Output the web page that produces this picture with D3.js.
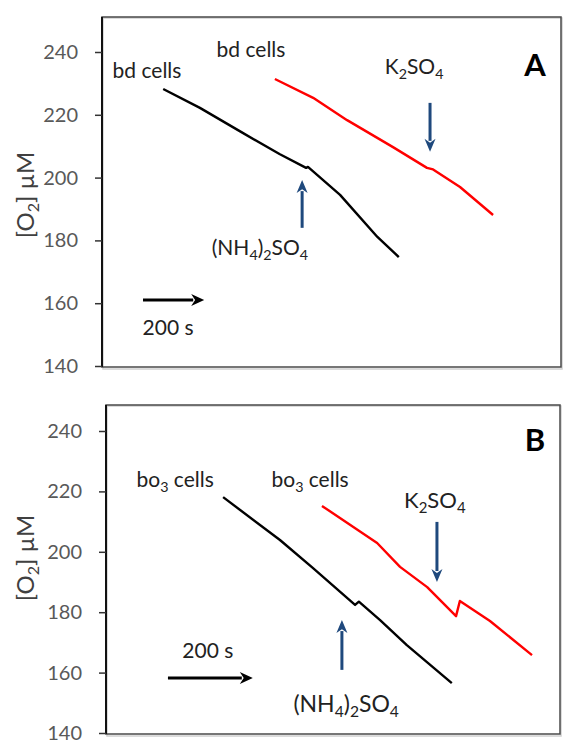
<!DOCTYPE html>
<html>
<head>
<meta charset="utf-8">
<script src="https://cdn.jsdelivr.net/npm/d3@7"></script>
<style>
  body { margin: 0; background: #fff; }
  svg { display: block; font-family: Lato, "Open Sans", sans-serif; }
</style>
</head>
<body>
<svg id="chart" width="563" height="742"></svg>
<script>
// [time (s), O2 (uM)]
var aBlack = [[200, 228.2], [320, 222.2], [450, 214.8], [580, 207.5], [667, 203.1], [673, 203.4], [778, 194.5], [900, 181.1], [970, 174.7]];
var aRed = [[565, 231.4], [690, 225.4], [801, 218.3], [951, 209.7], [1062, 203.1], [1082, 202.6], [1170, 197.0], [1278, 188.1]];
var bBlack = [[276, 218.1], [410, 203.9], [488, 194.6], [587, 182.4], [596, 183.5], [646, 177.4], [709, 169.1], [815, 156.5]];
var bRed = [[509, 215.2], [639, 202.9], [693, 195.0], [757, 188.3], [825, 178.7], [834, 183.7], [905, 177.1], [1004, 165.8]];
var yTicks = [140, 160, 180, 200, 220, 240];
var scaleBar = 200; // s

var panels = [
    {
        name: "A", left: 102, right: 561, top: 17, y140: 366, y240: 52, tMax: 1500, ylabY: 195,
        traces: [aBlack, aRed],
        labels: [
            {t: 147, v: 231.7, parts: [["bd cells"]], size: 21},
            {t: 487, v: 238.4, parts: [["bd cells"]], size: 21},
            {t: 1020, v: 233, parts: [["K"], ["2", 1], ["SO"], ["4", 1]], size: 21},
            {t: 516, v: 175.4, parts: [["(NH"], ["4", 1], [")"], ["2", 1], ["SO"], ["4", 1]], size: 21},
            {t: 216, v: 149.9, parts: [["200 s"]], size: 21}
        ],
        up: {t: 654, v0: 184, v1: 199.2},
        down: {t: 1072, v0: 223.8, v1: 208.2},
        bar: {t: 134, v: 161},
        letter: {t: 1415, v: 232.4}
    },
    {
        name: "B", left: 106, right: 560, top: 405, y140: 733, y240: 431, tMax: 1070, ylabY: 558,
        traces: [bBlack, bRed],
        labels: [
            {t: 163, v: 221.5, parts: [["bo"], ["3", 1], [" cells"]], size: 21},
            {t: 481, v: 221.5, parts: [["bo"], ["3", 1], [" cells"]], size: 21},
            {t: 775, v: 214.5, parts: [["K"], ["2", 1], ["SO"], ["4", 1]], size: 22},
            {t: 566, v: 147.0, parts: [["(NH"], ["4", 1], [")"], ["2", 1], ["SO"], ["4", 1]], size: 23},
            {t: 240, v: 164.8, parts: [["200 s"]], size: 21}
        ],
        up: {t: 556, v0: 160.9, v1: 177.4},
        down: {t: 780, v0: 209.9, v1: 190},
        bar: {t: 146, v: 158.2},
        letter: {t: 1011, v: 233.4}
    }
];

var svg = d3.select("#chart");
var colors = ["#000", "#ff0000"];
var blue = "#1f497d";

function arrow(g, x1, y1, x2, y2, color, w, hl, hw) {
    var ang = Math.atan2(y2 - y1, x2 - x1),
        bx = x2 - hl * Math.cos(ang),
        by = y2 - hl * Math.sin(ang);
    g.append("line")
        .attr("x1", x1).attr("y1", y1)
        .attr("x2", bx + 2 * Math.cos(ang)).attr("y2", by + 2 * Math.sin(ang))
        .attr("stroke", color).attr("stroke-width", w);
    var px = -Math.sin(ang) * hw / 2, py = Math.cos(ang) * hw / 2;
    g.append("path")
        .attr("d", "M" + x2 + "," + y2 + "L" + (bx + px) + "," + (by + py) +
            "L" + (x2 - (hl * 0.7) * Math.cos(ang)) + "," + (y2 - (hl * 0.7) * Math.sin(ang)) +
            "L" + (bx - px) + "," + (by - py) + "Z")
        .attr("fill", color);
}

panels.forEach(function(p) {
    var x = d3.scaleLinear().domain([0, p.tMax]).range([p.left, p.right]),
        y = d3.scaleLinear().domain([140, 240]).range([p.y140, p.y240]),
        g = svg.append("g");

    // plot frame
    g.append("rect")
        .attr("x", p.left + 1).attr("y", p.top + 1)
        .attr("width", p.right - p.left).attr("height", p.y140 + 2 - p.top)
        .attr("fill", "none").attr("stroke", "#d0d0d0").attr("stroke-width", 1.5);
    g.append("rect")
        .attr("x", p.left).attr("y", p.top)
        .attr("width", p.right - p.left).attr("height", p.y140 + 1 - p.top)
        .attr("fill", "none").attr("stroke", "#4a4a4a").attr("stroke-width", 1.5);

    var axis = g.append("g")
        .attr("transform", "translate(" + p.left + ",0)")
        .call(d3.axisLeft(y).tickValues(yTicks).tickSize(7).tickPadding(17).tickFormat(d3.format("d")));
    axis.select(".domain").attr("stroke", "#111").attr("stroke-width", 2)
        .attr("d", "M0," + p.top + "V" + (p.y140 + 1));
    axis.selectAll(".tick line").attr("stroke", "#333").attr("stroke-width", 1.5);
    axis.selectAll(".tick text")
        .attr("fill", "#595959").attr("font-size", 20).attr("font-family", "Lato, sans-serif");

    // y label
    var yl = g.append("text")
        .attr("transform", "translate(34," + p.ylabY + ") rotate(-90)")
        .attr("text-anchor", "middle").attr("font-size", 24).attr("fill", "#404040");
    yl.append("tspan").text("[O");
    yl.append("tspan").attr("font-size", 16).attr("dy", 5).text("2");
    yl.append("tspan").attr("dy", -5).text("] \u00b5M");

    var line = d3.line()
        .x(function(d) { return x(d[0]); })
        .y(function(d) { return y(d[1]); });

    p.traces.forEach(function(tr, i) {
        g.append("path")
            .datum(tr)
            .attr("fill", "none")
            .attr("stroke", colors[i])
            .attr("stroke-width", 2.4)
            .attr("stroke-linejoin", "round")
            .attr("d", line);
    });

    p.labels.forEach(function(l) {
        var t = g.append("text")
            .attr("x", x(l.t)).attr("y", y(l.v))
            .attr("text-anchor", "middle")
            .attr("font-size", l.size).attr("fill", "#222");
        var low = false;
        l.parts.forEach(function(part) {
            var s = t.append("tspan").text(part[0]);
            if (part[1] && !low) { s.attr("dy", 5).attr("font-size", l.size * 0.68); low = true; }
            else if (part[1]) { s.attr("font-size", l.size * 0.68); }
            else if (low) { s.attr("dy", -5); low = false; }
        });
    });

    arrow(g, x(p.up.t), y(p.up.v0), x(p.up.t), y(p.up.v1), blue, 3, 13, 11);
    arrow(g, x(p.down.t), y(p.down.v0), x(p.down.t), y(p.down.v1), blue, 3, 13, 11);
    arrow(g, x(p.bar.t), y(p.bar.v), x(p.bar.t + scaleBar), y(p.bar.v), "#000", 3, 13, 12);

    g.append("text")
        .attr("x", x(p.letter.t)).attr("y", y(p.letter.v))
        .attr("text-anchor", "middle")
        .attr("font-size", 31).attr("font-weight", "bold").attr("fill", "#000")
        .text(p.name);
});
</script>
</body>
</html>
